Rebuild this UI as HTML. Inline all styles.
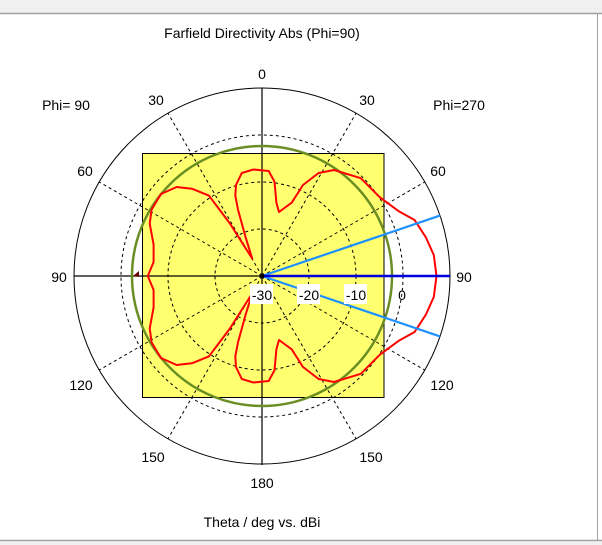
<!DOCTYPE html>
<html><head><style>
html,body{margin:0;padding:0;background:#fff;}
svg{display:block;font-family:"Liberation Sans",sans-serif;}
</style></head><body>
<svg width="602" height="545" viewBox="0 0 602 545" xmlns="http://www.w3.org/2000/svg">
<rect x="0" y="0" width="602" height="13" fill="#f0f0f0"/>
<line x1="0" y1="13.5" x2="602" y2="13.5" stroke="#a0a0a0" stroke-width="1.5"/>
<line x1="0" y1="540.5" x2="602" y2="540.5" stroke="#a0a0a0" stroke-width="1.5"/>
<line x1="597.5" y1="13" x2="597.5" y2="541" stroke="#a0a0a0" stroke-width="1"/>
<rect x="0" y="542" width="602" height="3" fill="#f0f0f0"/>

<rect x="142.5" y="153.5" width="241.5" height="244" fill="#ffff70" stroke="#000" stroke-width="1"/>
<circle cx="262" cy="276" r="188" fill="none" stroke="#000" stroke-width="1"/>
<g fill="none" stroke="#000" stroke-width="1" stroke-dasharray="3,3">
<circle cx="262" cy="276" r="47"/>
<circle cx="262" cy="276" r="94"/>
<circle cx="262" cy="276" r="141"/>
<line x1="262" y1="276" x2="356" y2="113.2"/>
<line x1="262" y1="276" x2="424.8" y2="182"/>
<line x1="262" y1="276" x2="424.8" y2="370"/>
<line x1="262" y1="276" x2="356" y2="438.8"/>
<line x1="262" y1="276" x2="168" y2="113.2"/>
<line x1="262" y1="276" x2="99.2" y2="182"/>
<line x1="262" y1="276" x2="99.2" y2="370"/>
<line x1="262" y1="276" x2="168" y2="438.8"/>
</g>
<line x1="262" y1="88" x2="262" y2="465" stroke="#000" stroke-width="1.2"/>
<line x1="74" y1="276" x2="450" y2="276" stroke="#000" stroke-width="1.2"/>
<circle cx="262" cy="276" r="130" fill="none" stroke="#6b8e23" stroke-width="2.5"/>

<path fill="none" stroke="#ff0000" stroke-width="2" stroke-linejoin="round" d="
M436.5,276 L433.8,255 L426,237.6 L414.6,220 L399,211.4 L380,197.4 L360.8,178.2 L334,170 L318.6,173 L303,185 L291.7,202.7 L279,212 L276.4,202.7 L274.5,181.7 L268.7,171 L253.4,169.5 L241.8,173 L236,185 L235.3,195.7 L238,209.6 L245.7,237.6 L252.2,258.6 L230,223.6 L209,195.7 L192,188.7 L176.6,187 L161,194 L151.6,209.6 L149.7,223.6 L153.6,244.6 L153.6,262 L147.8,276
L153.6,290 L153.6,307.4 L149.7,328.4 L151.6,342.4 L161,358 L176.6,365 L192,363.3 L209,356.3 L230,328.4 L252.2,293.4 L245.7,314.4 L238,342.4 L235.3,356.3 L236,367 L241.8,379 L253.4,382.5 L268.7,381 L274.5,370.3 L276.4,349.3 L279,340 L291.7,349.3 L303,367 L318.6,379 L334,382 L360.8,373.8 L380,354.6 L399,340.6 L414.6,332 L426,314.4 L433.8,297 Z"/>

<line x1="262" y1="276" x2="440" y2="215.6" stroke="#1e90ff" stroke-width="2.2"/>
<line x1="262" y1="276" x2="440" y2="336.4" stroke="#1e90ff" stroke-width="2.2"/>
<line x1="262" y1="276" x2="450" y2="276" stroke="#0000dd" stroke-width="2.5"/>
<circle cx="262" cy="276" r="2.5" fill="#000"/>
<polygon points="133,276 139,271 139,277" fill="#600"/>

<g font-size="14" fill="#000" text-anchor="middle">
<text x="262" y="38">Farfield Directivity Abs (Phi=90)</text>
<text x="262" y="79">0</text>
<text x="156" y="105">30</text>
<text x="367" y="105">30</text>
<text x="66" y="110">Phi= 90</text>
<text x="459" y="110">Phi=270</text>
<text x="85" y="176">60</text>
<text x="438" y="176">60</text>
<text x="59" y="282">90</text>
<text x="464" y="282">90</text>
<text x="81" y="390">120</text>
<text x="442" y="390">120</text>
<text x="153" y="462">150</text>
<text x="371" y="462">150</text>
<text x="262" y="488">180</text>
<text x="262" y="527">Theta / deg vs. dBi</text>
</g>
<g fill="#fff">
<rect x="250" y="284" width="23" height="20"/>
<rect x="297" y="284" width="23" height="20"/>
<rect x="344" y="284" width="23" height="20"/>
</g>
<g font-size="14" fill="#000" text-anchor="middle">
<text x="262" y="300">-30</text>
<text x="309" y="300">-20</text>
<text x="356" y="300">-10</text>
<text x="402" y="300">0</text>
</g>
</svg>
</body></html>
